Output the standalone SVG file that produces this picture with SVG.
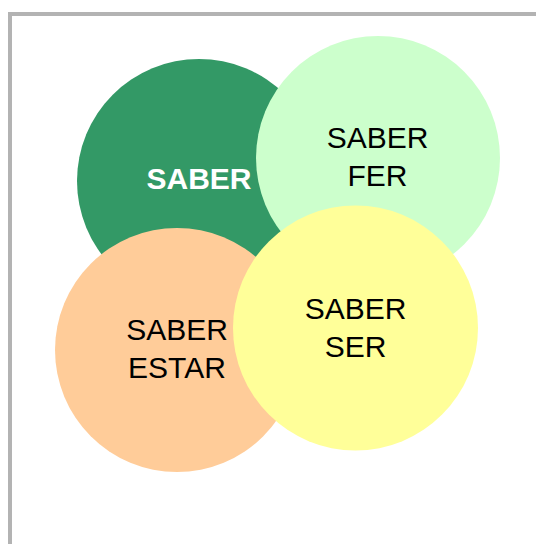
<svg xmlns="http://www.w3.org/2000/svg" width="536" height="544" viewBox="0 0 536 544">
<style>
.t{font-family:"Liberation Sans",Arial,sans-serif;font-size:30px;fill:#000;text-anchor:middle}
.b{font-weight:bold;fill:#fff}
</style>
<rect x="0" y="0" width="536" height="544" fill="#fff"/>
<rect x="10" y="14" width="600" height="600" fill="none" stroke="#b3b3b3" stroke-width="4"/>
<g id="saber">
<circle cx="199" cy="181" r="122" fill="#339966"/>
<text class="t b" x="199" y="189">SABER</text>
</g>
<g id="saber-fer">
<circle cx="378" cy="158" r="122" fill="#ccffcc"/>
<text class="t" x="377.5" y="148">SABER</text>
<text class="t" x="377.5" y="186">FER</text>
</g>
<g id="saber-estar">
<circle cx="177" cy="350" r="122" fill="#ffcc99"/>
<text class="t" x="177" y="340">SABER</text>
<text class="t" x="177" y="378">ESTAR</text>
</g>
<g id="saber-ser">
<circle cx="355.5" cy="328" r="122.5" fill="#ffff99"/>
<text class="t" x="355.5" y="318.5">SABER</text>
<text class="t" x="355.5" y="356.5">SER</text>
</g>
<g id="connectors"></g>
</svg>
